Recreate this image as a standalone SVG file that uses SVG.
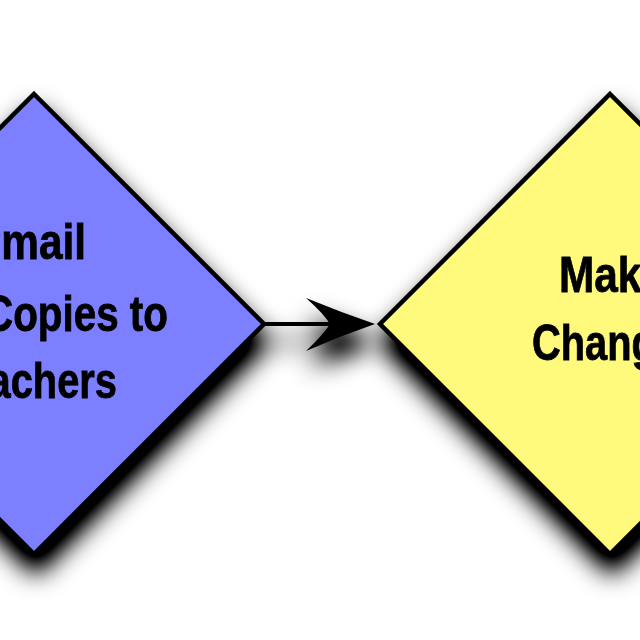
<svg xmlns="http://www.w3.org/2000/svg" width="640" height="640" viewBox="0 0 640 640">
  <defs>
    <filter id="shadow" filterUnits="userSpaceOnUse" x="-300" y="0" width="1240" height="640">
      <feGaussianBlur in="SourceAlpha" stdDeviation="13"/>
      <feOffset dx="2" dy="18" result="blur"/>
      <feComponentTransfer>
        <feFuncA type="linear" slope="1.35"/>
      </feComponentTransfer>
      <feMerge>
        <feMergeNode/>
        <feMergeNode in="SourceGraphic"/>
      </feMerge>
    </filter>
  </defs>
  <style>
    .shape { stroke: #000; stroke-width: 4.5; stroke-linejoin: miter; }
    .blue { fill: #7b7fff; }
    .yellow { fill: #fff97c; }
    .label { font-family: "Liberation Sans", Arial, sans-serif; font-weight: bold; font-size: 50px; fill: #000; stroke: #000; stroke-width: 0.8; }
    .edge { stroke: #000; stroke-width: 4; fill: none; }
  </style>
  <rect width="640" height="640" fill="#fff"/>

  <g id="connectors" filter="url(#shadow)">
    <line class="edge" x1="264" y1="324" x2="334" y2="324"/>
    <path d="M375,324 Q340,312 306,298 Q324,314 330,324 Q324,334 306,351 Q340,336 375,324 Z" fill="#000"/>
  </g>

  <g id="email-copies" filter="url(#shadow)">
    <polygon class="shape blue" points="34,94 264,324 34,554 -196,324"/>
    <text class="label" x="86" y="259" text-anchor="end" textLength="113" lengthAdjust="spacingAndGlyphs">Email</text>
    <text class="label" x="168" y="331" text-anchor="end" textLength="184" lengthAdjust="spacingAndGlyphs">Copies to</text>
    <text class="label" x="117" y="398" text-anchor="end" textLength="172" lengthAdjust="spacingAndGlyphs">Teachers</text>
  </g>

  <g id="make-changes" filter="url(#shadow)">
    <polygon class="shape yellow" points="610,94 840,324 610,554 380,324"/>
    <text class="label" x="559" y="292" textLength="106" lengthAdjust="spacingAndGlyphs">Make</text>
    <text class="label" x="532" y="360" textLength="168" lengthAdjust="spacingAndGlyphs">Changes</text>
  </g>
</svg>
